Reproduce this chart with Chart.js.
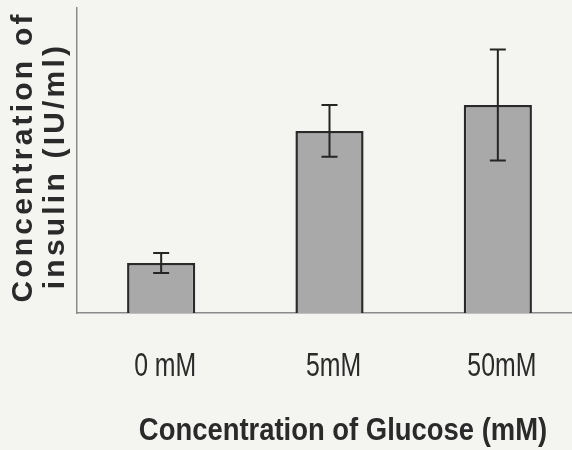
<!DOCTYPE html>
<html>
<head>
<meta charset="utf-8">
<script src="https://cdn.jsdelivr.net/npm/chart.js@4"></script>
<style>
  html, body { margin: 0; padding: 0; background: #f4f4f1; overflow: hidden; }
  #wrap { width: 572px; height: 450px; overflow: hidden; }
</style>
</head>
<body>
<div id="wrap"><canvas id="myChart" width="600" height="450"></canvas></div>
<script>
const categories = ['0 mM', '5mM', '50mM'];
const insulin = [16.4, 59.7, 68.2];
const errors = [3.3, 8.5, 18.2];

const yTitle = ['Concentration of', 'insulin (IU/ml)'];
const xTitle = 'Concentration of Glucose (mM)';

// error bars drawn through the scales
const errorBars = {
  id: 'errorBars',
  afterDatasetsDraw(chart) {
    const ctx = chart.ctx;
    const x = chart.scales.x, y = chart.scales.y;
    ctx.save();
    ctx.strokeStyle = '#252525';
    ctx.lineWidth = 2;
    insulin.forEach((v, i) => {
      const cx = x.getPixelForValue(i);
      const top = y.getPixelForValue(v + errors[i]);
      const bot = y.getPixelForValue(v - errors[i]);
      ctx.beginPath();
      ctx.moveTo(cx, top); ctx.lineTo(cx, bot);
      ctx.moveTo(cx - 8, top); ctx.lineTo(cx + 8, top);
      ctx.moveTo(cx - 8, bot); ctx.lineTo(cx + 8, bot);
      ctx.stroke();
    });
    ctx.restore();
  }
};

// condensed tick labels + axis titles, like the scan
const titles = {
  id: 'titles',
  afterDraw(chart) {
    const ctx = chart.ctx;
    const x = chart.scales.x;
    ctx.save();
    ctx.fillStyle = '#2a2a2a';
    ctx.textAlign = 'center';
    ctx.textBaseline = 'alphabetic';

    // tick labels
    ctx.font = '34px "Liberation Sans", Arial, sans-serif';
    categories.forEach((c, i) => {
      ctx.save();
      ctx.translate(x.getPixelForValue(i) + 4, 376);
      ctx.scale(0.73, 1);
      ctx.fillText(c, 0, 0);
      ctx.restore();
    });

    // y title, two rotated lines
    ctx.font = 'bold 30px "Liberation Sans", Arial, sans-serif';
    ctx.letterSpacing = '3.2px';
    [[32, 157], [64, 166]].forEach((p, i) => {
      ctx.save();
      ctx.translate(p[0], p[1]);
      ctx.rotate(-Math.PI / 2);
      ctx.fillText(yTitle[i], 0, 0);
      ctx.restore();
    });
    ctx.letterSpacing = '0px';

    // x title
    ctx.font = 'bold 32px "Liberation Sans", Arial, sans-serif';
    ctx.translate(343, 440);
    ctx.scale(0.857, 1);
    ctx.fillText(xTitle, 0, 0);
    ctx.restore();
  }
};

const ctx = document.getElementById('myChart').getContext('2d');
const myChart = new Chart(ctx, {
  type: 'bar',
  data: {
    labels: categories,
    datasets: [{
      data: insulin,
      backgroundColor: '#a9a9a9',
      borderColor: '#2a2a2a',
      borderWidth: 2.5,
      categoryPercentage: 1,
      barPercentage: 0.405
    }]
  },
  options: {
    responsive: false,
    animation: false,
    layout: { padding: { left: 77, top: 8, right: 18, bottom: 137 } },
    plugins: { legend: { display: false }, tooltip: { enabled: false } },
    scales: {
      x: {
        grid: { display: false, drawTicks: false },
        border: { display: true, color: '#8a8a8a', width: 1.5 },
        ticks: { display: false }
      },
      y: {
        min: 0,
        max: 100,
        grid: { display: false, drawTicks: false },
        border: { display: true, color: '#8a8a8a', width: 1.5 },
        ticks: { display: false }
      }
    }
  },
  plugins: [errorBars, titles]
});
</script>
</body>
</html>
